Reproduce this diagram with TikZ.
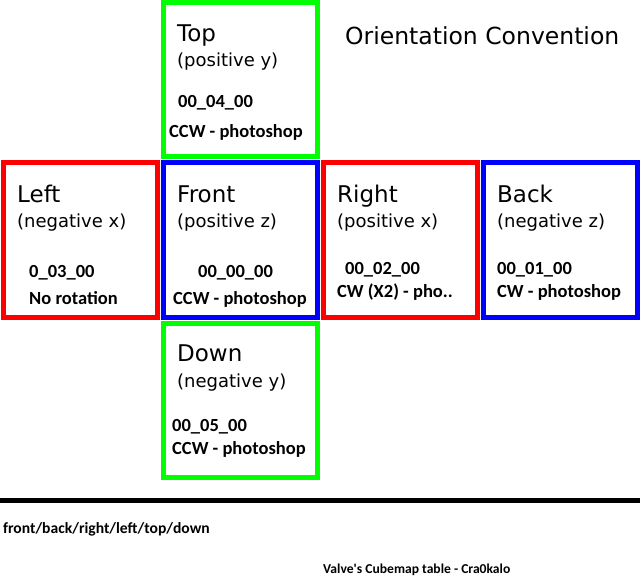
\documentclass[tikz,border=0pt]{standalone}
\usepackage{fontspec}
\newfontfamily\facefont{DejaVu Sans}
\newfontfamily\notefont{Carlito}
\definecolor{facegreen}{RGB}{0,255,0}
\tikzset{
  face/.style={draw=#1, line width=5pt, minimum size=154pt, inner sep=0pt},
  facename/.style={anchor=base west, inner sep=0pt, font=\facefont\fontsize{23}{23}\selectfont},
  axisname/.style={anchor=base west, inner sep=0pt, font=\facefont\fontsize{18}{18}\selectfont},
  codename/.style={anchor=base west, inner sep=0pt, font=\notefont\bfseries\fontsize{18.5}{18.5}\selectfont},
}

\begin{document}
\begin{tikzpicture} [x=1pt, y=-1pt]
\useasboundingbox (0,0) rectangle (640,583);
\node[face=facegreen] (top) at (240,80) {};
\node[face=red] (left) at (80,240) {};
\node[face=blue] (front) at (240,240) {};
\node[face=red] (right) at (400,240) {};
\node[face=blue] (back) at (560,240) {};
\node[face=facegreen] (down) at (240,400) {};
\node[facename] (toptitle) at (177,42) {Top};
\node[axisname] (topaxis) at (177,67) {(positive y)};
\node[codename] (topcode) at (178,108) {00\_04\_00};
\node[codename] (topturn) at (169,138) {CCW - photoshop};
\node[facename] (lefttitle) at (17,202) {Left};
\node[axisname] (leftaxis) at (17,227) {(negative x)};
\node[codename] (leftcode) at (29,277) {0\_03\_00};
\node[codename] (leftturn) at (29,304) {No rotation};
\node[facename] (fronttitle) at (177,202) {Front};
\node[axisname] (frontaxis) at (177,227) {(positive z)};
\node[codename] (frontcode) at (198,277) {00\_00\_00};
\node[codename] (frontturn) at (173,304) {CCW - photoshop};
\node[facename] (righttitle) at (337,202) {Right};
\node[axisname] (rightaxis) at (337,227) {(positive x)};
\node[codename] (rightcode) at (345,274) {00\_02\_00};
\node[codename] (rightturn) at (337,297) {CW (X2) - pho..};
\node[facename] (backtitle) at (497,202) {Back};
\node[axisname] (backaxis) at (497,227) {(negative z)};
\node[codename] (backcode) at (497,274) {00\_01\_00};
\node[codename] (backturn) at (497,297) {CW - photoshop};
\node[facename] (downtitle) at (177,361) {Down};
\node[axisname] (downaxis) at (177,387) {(negative y)};
\node[codename] (downcode) at (172,431) {00\_05\_00};
\node[codename] (downturn) at (172,454) {CCW - photoshop};
\node[facename, font=\facefont\fontsize{23.5}{23.5}\selectfont] (heading) at (345,45) {Orientation Convention};
\coordinate (rulestart) at (0,500);
\coordinate (ruleend) at (640,500);
\draw[line width=5pt] (rulestart) -- (ruleend);
\node[codename, font=\notefont\bfseries\fontsize{15.6}{15.6}\selectfont] (order) at (3,533) {front/back/right/left/top/down};
\node[codename, font=\notefont\bfseries\fontsize{13.6}{13.6}\selectfont] (credit) at (323,573) {Valve's Cubemap table - Cra0kalo};
\end{tikzpicture}
\end{document}
